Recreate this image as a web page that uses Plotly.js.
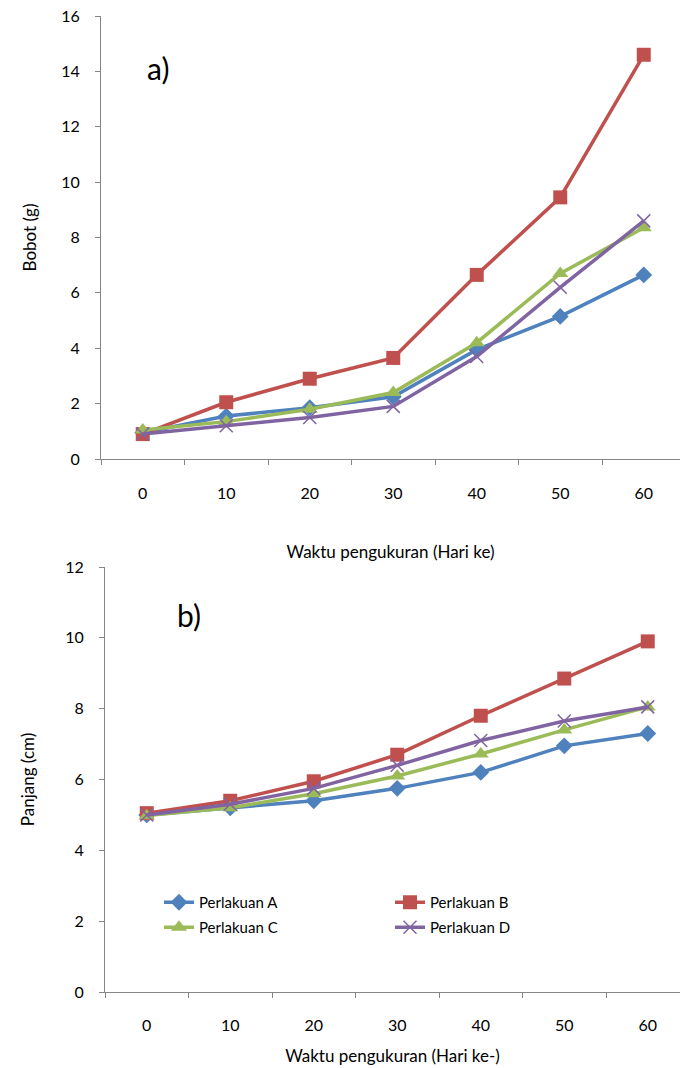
<!DOCTYPE html>
<html>
<head>
<meta charset="utf-8">
<script src="https://cdn.plot.ly/plotly-3.0.1.min.js"></script>
<style>html,body{margin:0;padding:0;overflow:hidden;background:#fff}#chart{width:680px;height:1068px}</style>
</head>
<body>
<div id="chart"></div>
<script>
// Categories (Hari ke-)
const days = ["0", "10", "20", "30", "40", "50", "60"];
const seriesNames = ["Perlakuan A", "Perlakuan B", "Perlakuan C", "Perlakuan D"];

// a) Bobot (g)
const bobotA = [0.95, 1.55, 1.85, 2.25, 3.95, 5.15, 6.65];
const bobotB = [0.9, 2.05, 2.9, 3.65, 6.65, 9.45, 14.6];
const bobotC = [1.05, 1.35, 1.8, 2.4, 4.2, 6.7, 8.35];
const bobotD = [0.9, 1.2, 1.5, 1.9, 3.7, 6.2, 8.6];

// b) Panjang (cm)
const panjangA = [5.0, 5.2, 5.4, 5.75, 6.2, 6.95, 7.3];
const panjangB = [5.05, 5.4, 5.95, 6.7, 7.8, 8.85, 9.9];
const panjangC = [4.98, 5.2, 5.6, 6.1, 6.72, 7.4, 8.05];
const panjangD = [5.0, 5.3, 5.75, 6.4, 7.1, 7.65, 8.05];

const yTicksA = [0, 2, 4, 6, 8, 10, 12, 14, 16];
const yTicksB = [0, 2, 4, 6, 8, 10, 12];

const colors = ["#4F81BD", "#C0504D", "#9BBB59", "#8064A2"];
const markers = [
  {symbol: "diamond", size: 13},
  {symbol: "square", size: 14},
  {symbol: "triangle-up", size: 14},
  {symbol: "x-thin-open", size: 13}
];
// one legend box per series
const legendOf = ["legend2", "legend3", "legend4", "legend5"];

function mk(vals, i, xa, ya, show) {
  const m = {symbol: markers[i].symbol, size: markers[i].size, color: colors[i]};
  if (markers[i].symbol === "x-thin-open") m.line = {color: colors[i], width: 1.5};
  else m.line = {width: 0};
  return {
    x: days, y: vals, type: "scatter", mode: "lines+markers",
    name: seriesNames[i], xaxis: xa, yaxis: ya, showlegend: show, legend: show ? legendOf[i] : "legend",
    line: {color: colors[i], width: 3.5}, marker: m, cliponaxis: false
  };
}

const data = [
  mk(panjangA, 0, "x2", "y2", true), mk(panjangB, 1, "x2", "y2", true),
  mk(panjangC, 2, "x2", "y2", true), mk(panjangD, 3, "x2", "y2", true),
  mk(bobotA, 0, "x", "y", false), mk(bobotB, 1, "x", "y", false),
  mk(bobotC, 2, "x", "y", false), mk(bobotD, 3, "x", "y", false)
];

const H = 1068, W = 680;
const fam = "Lato, 'Open Sans', sans-serif";
const font = {family: fam, size: 16, color: "#000"};
const titleFont = {family: fam, size: 17, color: "#000"};
const axCommon = {
  showgrid: false, zeroline: false, showline: true, linecolor: "#868686", linewidth: 1,
  ticks: "outside", ticklen: 5, tickcolor: "#868686", tickfont: font, automargin: false, fixedrange: true
};
const catSpan = 83.5;
function leg(px, py) {
  return {
    orientation: "v", xanchor: "left", yanchor: "top", x: px / W, y: (H - py) / H,
    font: {family: fam, size: 15, color: "#000"}, tracegroupgap: 0, bgcolor: "rgba(0,0,0,0)"
  };
}

const layout = {
  width: W, height: H, margin: {l: 0, r: 0, t: 0, b: 0},
  paper_bgcolor: "#fff", plot_bgcolor: "#fff", font: font,
  xaxis: Object.assign({}, axCommon, {
    type: "category", domain: [101 / W, 1], anchor: "y",
    range: [-0.5, -0.5 + (W - 101) / catSpan], tickson: "boundaries",
    ticklabelstandoff: 20,
    title: {text: "Waktu pengukuran (Hari ke)", font: titleFont, standoff: 44}
  }),
  yaxis: Object.assign({}, axCommon, {
    domain: [(H - 459) / H, (H - 16) / H], anchor: "x", range: [0, 16],
    tickvals: yTicksA, ticklabelstandoff: 12,
    title: {text: "Bobot (g)", font: titleFont, standoff: 20}
  }),
  xaxis2: Object.assign({}, axCommon, {
    type: "category", domain: [105 / W, 1], anchor: "y2",
    range: [-0.5, -0.5 + (W - 105) / catSpan], tickson: "boundaries",
    ticklabelstandoff: 19,
    title: {text: "Waktu pengukuran (Hari ke-)", font: titleFont, standoff: 16}
  }),
  yaxis2: Object.assign({}, axCommon, {
    domain: [(H - 992) / H, (H - 567) / H], anchor: "x2", range: [0, 12],
    tickvals: yTicksB, ticklabelstandoff: 12,
    title: {text: "Panjang (cm)", font: titleFont, standoff: 26}
  }),
  legend: {visible: false},
  legend2: leg(159, 886),
  legend3: leg(390, 886),
  legend4: leg(159, 911),
  legend5: leg(390, 911),
  annotations: [
    {text: "a)", x: 145 / W, y: (H - 68) / H, xref: "paper", yref: "paper", xanchor: "left", yanchor: "middle",
     showarrow: false, font: {family: fam, size: 30, color: "#000"}},
    {text: "b)", x: 175 / W, y: (H - 615) / H, xref: "paper", yref: "paper", xanchor: "left", yanchor: "middle",
     showarrow: false, font: {family: fam, size: 30, color: "#000"}}
  ]
};

Plotly.newPlot("chart", data, layout, {displayModeBar: false, staticPlot: true});
</script>
</body>
</html>
